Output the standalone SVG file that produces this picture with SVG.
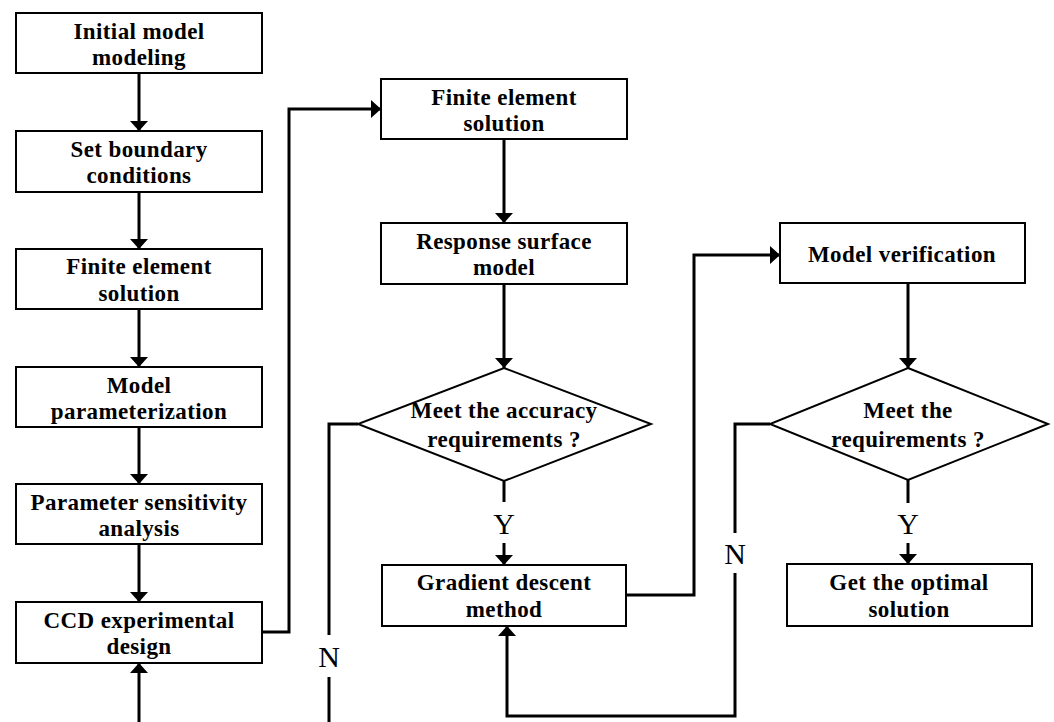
<svg xmlns="http://www.w3.org/2000/svg" width="1054" height="722" viewBox="0 0 1054 722">
<style>
.box{fill:#fff;stroke:#000;stroke-width:2}
.t{font-family:"Liberation Serif","Times New Roman",serif;font-weight:bold;font-size:23px;letter-spacing:0.4px;text-anchor:middle;fill:#000}
.lbl{font-family:"Liberation Serif","Times New Roman",serif;font-size:30px;text-anchor:middle;fill:#000}
.ln{fill:none;stroke:#000;stroke-width:3}
</style>
<defs>
<marker id="ah" markerUnits="userSpaceOnUse" markerWidth="12" markerHeight="20" refX="10" refY="10" orient="auto">
<path d="M0,1 L10,10 L0,19 Z" fill="#000"/>
</marker>
</defs>
<rect width="1054" height="722" fill="#fff"/>
<g id="connectors">
<line class="ln" x1="139" y1="73" x2="139" y2="131" marker-end="url(#ah)"/>
<line class="ln" x1="139" y1="192" x2="139" y2="249" marker-end="url(#ah)"/>
<line class="ln" x1="139" y1="309" x2="139" y2="367" marker-end="url(#ah)"/>
<line class="ln" x1="139" y1="427" x2="139" y2="484" marker-end="url(#ah)"/>
<line class="ln" x1="139" y1="544" x2="139" y2="602" marker-end="url(#ah)"/>
<line class="ln" x1="139" y1="722" x2="139" y2="663" marker-end="url(#ah)"/>
<polyline class="ln" points="262,632 289,632 289,109 381,109" marker-end="url(#ah)"/>
<line class="ln" x1="504" y1="139" x2="504" y2="223" marker-end="url(#ah)"/>
<line class="ln" x1="504" y1="284" x2="504" y2="368" marker-end="url(#ah)"/>
<polyline class="ln" points="358,424 329,424 329,635"/>
<line class="ln" x1="329" y1="677" x2="329" y2="722"/>
<text class="lbl" x="329" y="667">N</text>
<line class="ln" x1="504" y1="481" x2="504" y2="502"/>
<text class="lbl" x="504" y="534">Y</text>
<line class="ln" x1="504" y1="543" x2="504" y2="565" marker-end="url(#ah)"/>
<polyline class="ln" points="626,595 694,595 694,255 780,255" marker-end="url(#ah)"/>
<line class="ln" x1="908" y1="283" x2="908" y2="368" marker-end="url(#ah)"/>
<polyline class="ln" points="770,424 735,424 735,533"/>
<text class="lbl" x="735" y="564">N</text>
<polyline class="ln" points="735,573 735,716 507,716 507,626" marker-end="url(#ah)"/>
<line class="ln" x1="908" y1="480" x2="908" y2="503"/>
<text class="lbl" x="908" y="534">Y</text>
<line class="ln" x1="908" y1="543" x2="908" y2="564" marker-end="url(#ah)"/>
</g>
<g id="n1"><rect class="box" x="16" y="13" width="246" height="60"/><text class="t" x="139" y="39">Initial model</text><text class="t" x="139" y="65">modeling</text></g>
<g id="n2"><rect class="box" x="16" y="131" width="246" height="61"/><text class="t" x="139" y="157">Set boundary</text><text class="t" x="139" y="183">conditions</text></g>
<g id="n3"><rect class="box" x="16" y="249" width="246" height="60"/><text class="t" x="139" y="274">Finite element</text><text class="t" x="139" y="301">solution</text></g>
<g id="n4"><rect class="box" x="16" y="367" width="246" height="60"/><text class="t" x="139" y="393">Model</text><text class="t" x="139" y="419">parameterization</text></g>
<g id="n5"><rect class="box" x="16" y="484" width="246" height="60"/><text class="t" x="139" y="510">Parameter sensitivity</text><text class="t" x="139" y="536">analysis</text></g>
<g id="n6"><rect class="box" x="16" y="602" width="246" height="61"/><text class="t" x="139" y="628">CCD experimental</text><text class="t" x="139" y="654">design</text></g>
<g id="n7"><rect class="box" x="381" y="79" width="246" height="60"/><text class="t" x="504" y="105">Finite element</text><text class="t" x="504" y="131">solution</text></g>
<g id="n8"><rect class="box" x="381" y="223" width="246" height="61"/><text class="t" x="504" y="249">Response surface</text><text class="t" x="504" y="275">model</text></g>
<g id="d1"><polygon class="box" points="504,368 651,424 504,481 358,424"/><text class="t" x="504" y="418">Meet the accuracy</text><text class="t" x="504" y="447">requirements ?</text></g>
<g id="n9"><rect class="box" x="382" y="565" width="244" height="61"/><text class="t" x="504" y="590">Gradient descent</text><text class="t" x="504" y="617">method</text></g>
<g id="n10"><rect class="box" x="780" y="223" width="245" height="60"/><text class="t" x="902" y="262">Model verification</text></g>
<g id="d2"><polygon class="box" points="908,368 1048,424 908,480 770,424"/><text class="t" x="908" y="418">Meet the</text><text class="t" x="908" y="447">requirements ?</text></g>
<g id="n11"><rect class="box" x="787" y="564" width="245" height="62"/><text class="t" x="909" y="590">Get the optimal</text><text class="t" x="909" y="617">solution</text></g>
</svg>
